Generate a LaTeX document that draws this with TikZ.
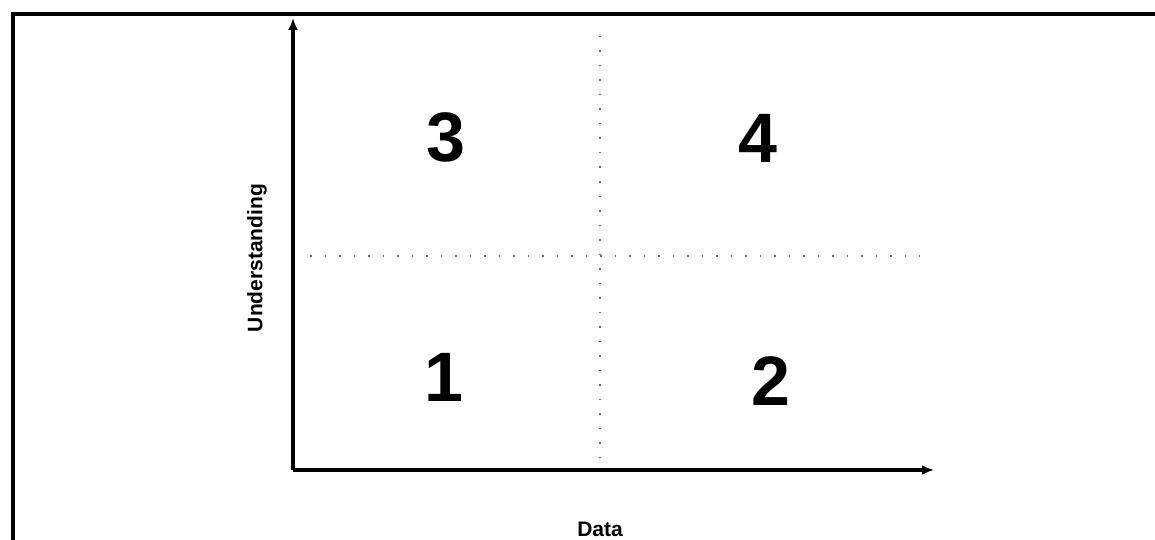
\documentclass[tikz,border=0pt]{standalone}
\usepackage{fontspec}
\setmainfont{Liberation Sans}
\usetikzlibrary{arrows.meta}
\begin{document}
\begin{tikzpicture}[x=1pt,y=-1pt,
  framestyle/.style={line width=3.5pt},
  axisstyle/.style={line width=3.2pt,-{Latex[length=12pt,width=10pt]}},
  dotline/.style={line width=1.2pt,black!60,dash pattern=on 1.5pt off 13pt},
  digit/.style={font=\bfseries\fontsize{70}{70}\selectfont,inner sep=0pt},
  axlabel/.style={font=\bfseries\fontsize{21}{21}\selectfont,inner sep=0pt}]
\useasboundingbox (0,0) rectangle (1155,540);
% frame (top and left edges visible)
\coordinate (ftl) at (13,14);
\coordinate (ftr) at (1160,14);
\coordinate (fbl) at (13,545);
\draw[framestyle] (fbl) -- (ftl) -- (ftr);
% axes
\coordinate (o) at (293,470);
\coordinate (ytip) at (293,18);
\coordinate (xtip) at (934,470);
\draw[axisstyle] (o) -- (ytip);
\draw[axisstyle] (o) -- (xtip);
% dotted dividers
\coordinate (vt) at (600,36);
\coordinate (vb) at (600,466);
\coordinate (hl) at (310,256);
\coordinate (hr) at (920,256);
\draw[dotline] (vt) -- (vb);
\draw[dotline] (hl) -- (hr);
% quadrant numbers
\node[digit] (q3) at (446,137) {3};
\node[digit] (q4) at (758,138) {4};
\node[digit] (q1) at (444,377) {1};
\node[digit] (q2) at (771,381) {2};
% axis labels
\node[axlabel,rotate=90] (ylab) at (257,258) {Understanding};
\node[axlabel,anchor=north] (xlab) at (600,522) {Data};
\end{tikzpicture}
\end{document}
